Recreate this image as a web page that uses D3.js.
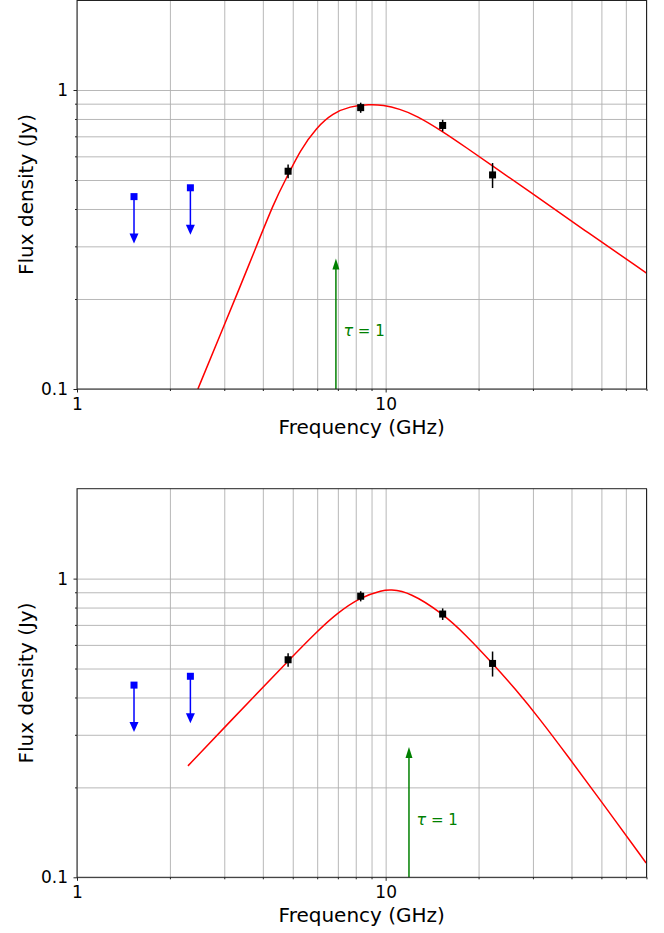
<!DOCTYPE html>
<html lang="en">
<head>
  <meta charset="UTF-8" />
  <title>Flux density spectra</title>
  <script src="https://cdn.jsdelivr.net/npm/d3@7"></script>
  <style>
    body { margin: 0; background: #fff; }
    text { font-family: "DejaVu Sans", sans-serif; }
  </style>
</head>
<body>
<script>
  // observed points (GHz, Jy)
  var obsFreq = [4.83, 8.3, 15.3, 22.2];
  var obsFlux = [0.535, 0.873, 0.761, 0.52];
  var obsErr = [0.028, 0.034, 0.034, 0.05];

  // upper limits
  var limFreq = [1.53, 2.33];
  var limFlux = [0.44, 0.471];

  // tau = 1 frequencies, one per panel
  var tauFreq = [6.9, 11.9];
  var tauTop = 0.273;
  var tauLabelFlux = 0.15;

  // model curves
  var topFreq = [2.464, 2.903, 3.63, 4.373, 4.83, 5.27, 5.97, 6.75, 7.65, 8.88, 9.8, 11.1, 12.57, 15.33, 18.24, 22.24, 28.53, 44.06, 70];
  var topFlux = [0.1, 0.1507, 0.2638, 0.4286, 0.5196, 0.625, 0.75, 0.836, 0.882, 0.896, 0.891, 0.864, 0.822, 0.726, 0.642, 0.556, 0.466, 0.3396, 0.2443];
  var botFreq = [2.288, 3.96, 4.83, 5.97, 6.93, 8.3, 9.8, 10.3, 11.96, 15.33, 18.24, 22.24, 26.16, 31.51, 39.4, 49.3, 69.8];
  var botFlux = [0.2361, 0.4282, 0.5298, 0.6627, 0.7635, 0.868, 0.914, 0.919, 0.902, 0.7635, 0.646, 0.519, 0.43, 0.34, 0.25, 0.183, 0.1117];

  var xMajor = [1, 10], xMajorLabels = ["1", "10"];
  var xMinor = [2, 3, 4, 5, 6, 7, 8, 9, 20, 30, 40, 50, 60, 70];
  var yMajor = [0.1, 1], yMajorLabels = ["0.1", "1"];
  var yMinor = [0.2, 0.3, 0.4, 0.5, 0.6, 0.7, 0.8, 0.9];

  var W = 664, H = 933;
  var left = 77, right = 646.5;
  var panels = [
    { top: 0, bottom: 389, freq: topFreq, flux: topFlux, tau: tauFreq[0] },
    { top: 488.7, bottom: 877.3, freq: botFreq, flux: botFlux, tau: tauFreq[1] }
  ];

  var svg = d3.select("body").append("svg")
    .attr("width", W)
    .attr("height", H);

  var x = d3.scaleLog().domain([1, 70]).range([left, right]);

  function styleGrid(s) {
    s.select(".domain").remove();
    s.selectAll("line").attr("stroke", "#b0b0b0").attr("stroke-width", 0.9);
  }

  function styleAxis(s) {
    s.select(".domain").remove();
    s.selectAll("line").attr("stroke", "#222");
    s.selectAll("text").attr("font-size", 17).attr("fill", "#000").attr("font-family", "DejaVu Sans");
  }

  panels.forEach(function(p, i) {
    var y = d3.scaleLog().domain([0.1, 2]).range([p.bottom, p.top]);
    var g = svg.append("g");
    var h = p.bottom - p.top;

    // grid
    g.append("g")
      .attr("transform", "translate(0," + p.bottom + ")")
      .call(d3.axisBottom(x).tickValues(xMajor.concat(xMinor)).tickSize(-h).tickFormat(""))
      .call(styleGrid);
    g.append("g")
      .attr("transform", "translate(" + left + ",0)")
      .call(d3.axisLeft(y).tickValues(yMajor.concat(yMinor)).tickSize(-(right - left)).tickFormat(""))
      .call(styleGrid);

    var clipId = "clip" + i;
    svg.append("clipPath").attr("id", clipId)
      .append("rect")
      .attr("x", left).attr("y", p.top)
      .attr("width", right - left).attr("height", h);

    // model curve
    var pts = p.freq.map(function(f, k) { return [f, p.flux[k]]; });
    g.append("path")
      .datum(pts)
      .attr("clip-path", "url(#" + clipId + ")")
      .attr("fill", "none")
      .attr("stroke", "#ff0000")
      .attr("stroke-width", 1.5)
      .attr("d", d3.line()
        .x(function(d) { return x(d[0]); })
        .y(function(d) { return y(d[1]); })
        .curve(d3.curveBasis));

    // tau = 1 arrow
    var tx = x(p.tau), ty = y(tauTop);
    g.append("line")
      .attr("x1", tx).attr("x2", tx)
      .attr("y1", p.bottom).attr("y2", ty + 9)
      .attr("stroke", "#008000").attr("stroke-width", 1.5);
    g.append("path")
      .attr("d", "M" + tx + "," + ty + "L" + (tx - 3.5) + "," + (ty + 11) + "L" + (tx + 3.5) + "," + (ty + 11) + "Z")
      .attr("fill", "#008000");
    var lab = g.append("text")
      .attr("x", tx + 7.5)
      .attr("y", y(tauLabelFlux))
      .attr("fill", "#008000")
      .attr("font-size", 15);
    lab.append("tspan").attr("font-style", "italic").attr("font-size", 16).text("τ");
    lab.append("tspan").text(" = 1");

    // upper limits
    limFreq.forEach(function(f, k) {
      var cx = x(f), cy = y(limFlux[k]);
      g.append("line")
        .attr("x1", cx).attr("x2", cx)
        .attr("y1", cy).attr("y2", cy + 40)
        .attr("stroke", "#0000ff").attr("stroke-width", 1.5);
      g.append("path")
        .attr("d", "M" + (cx - 4.5) + "," + (cy + 37) + "L" + (cx + 4.5) + "," + (cy + 37) + "L" + cx + "," + (cy + 47) + "Z")
        .attr("fill", "#0000ff");
      g.append("rect")
        .attr("x", cx - 3.5).attr("y", cy - 3.5)
        .attr("width", 7).attr("height", 7)
        .attr("fill", "#0000ff");
    });

    // observed points
    obsFreq.forEach(function(f, k) {
      var cx = x(f);
      g.append("line")
        .attr("x1", cx).attr("x2", cx)
        .attr("y1", y(obsFlux[k] + obsErr[k])).attr("y2", y(obsFlux[k] - obsErr[k]))
        .attr("stroke", "#000").attr("stroke-width", 1.5);
      g.append("rect")
        .attr("x", cx - 3.5).attr("y", y(obsFlux[k]) - 3.5)
        .attr("width", 7).attr("height", 7)
        .attr("fill", "#000");
    });

    // axes
    var xa = g.append("g").attr("transform", "translate(0," + p.bottom + ")");
    xa.append("g").call(d3.axisBottom(x).tickValues(xMinor).tickSize(2).tickFormat("")).call(styleAxis);
    xa.append("g").call(d3.axisBottom(x).tickValues(xMajor).tickSize(3.5).tickPadding(5)
      .tickFormat(function(d, j) { return xMajorLabels[j]; })).call(styleAxis);
    var ya = g.append("g").attr("transform", "translate(" + left + ",0)");
    ya.append("g").call(d3.axisLeft(y).tickValues(yMinor).tickSize(2).tickFormat("")).call(styleAxis);
    ya.append("g").call(d3.axisLeft(y).tickValues(yMajor).tickSize(3.5).tickPadding(5.5)
      .tickFormat(function(d, j) { return yMajorLabels[j]; })).call(styleAxis);

    g.append("rect")
      .attr("x", left).attr("y", p.top + (i === 0 ? 0.5 : 0))
      .attr("width", right - left).attr("height", h - (i === 0 ? 0.5 : 0))
      .attr("fill", "none").attr("stroke", "#222").attr("stroke-width", 1);

    g.append("text")
      .attr("x", (left + right) / 2)
      .attr("y", p.bottom + 44.5)
      .attr("text-anchor", "middle")
      .attr("font-size", 20)
      .text("Frequency (GHz)");
    g.append("text")
      .attr("transform", "translate(33," + (p.top + p.bottom) / 2 + ") rotate(-90)")
      .attr("text-anchor", "middle")
      .attr("font-size", 20)
      .text("Flux density (Jy)");
  });
</script>
</body>
</html>
